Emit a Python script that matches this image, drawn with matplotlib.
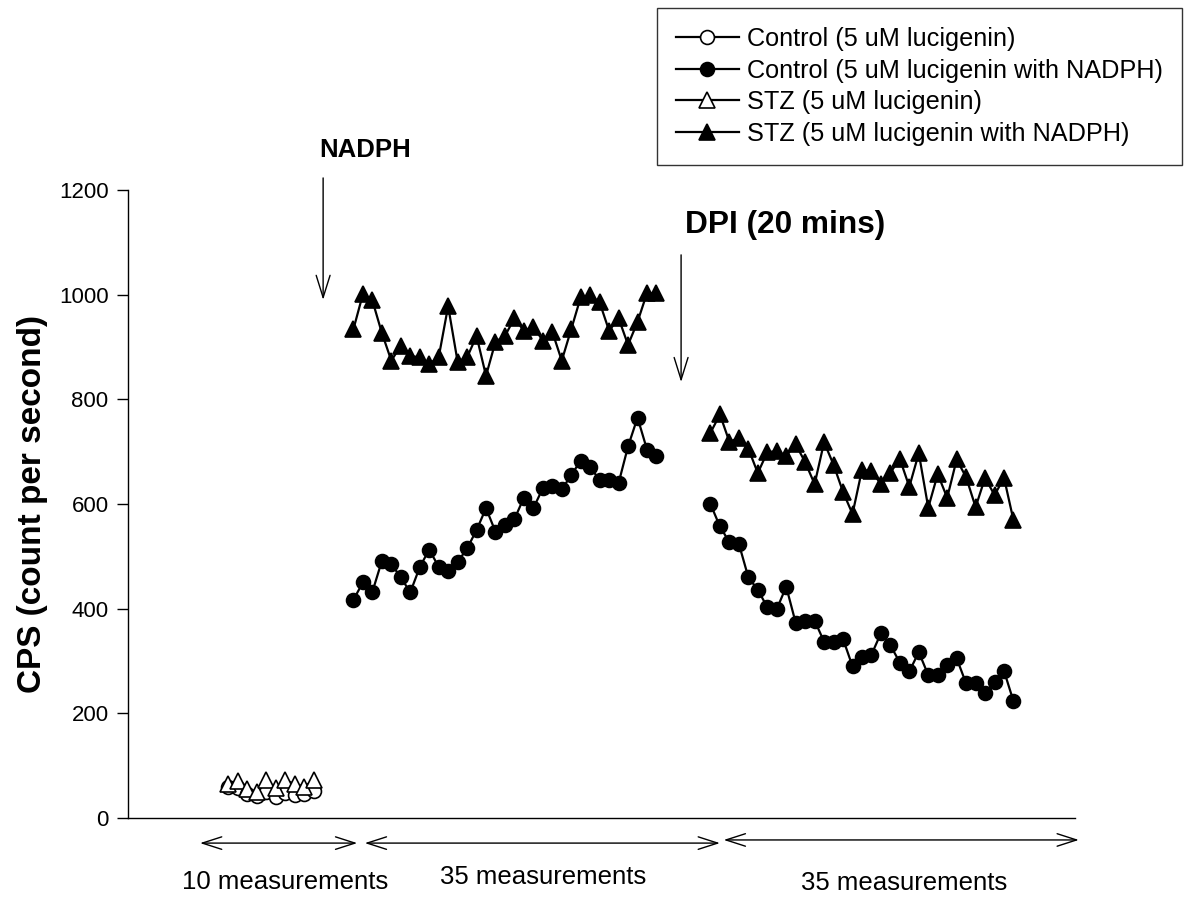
import matplotlib
matplotlib.use("Agg")
import matplotlib.pyplot as plt
import numpy as np

plt.rcParams['font.family'] = ['Liberation Sans', 'DejaVu Sans']

# ---- data ----
# baseline (10 measurements, before NADPH)
ctrl_base = [60, 58, 46, 42, 50, 40, 48, 43, 45, 52]
stz_base = [65, 70, 55, 50, 72, 57, 72, 65, 60, 72]
# after NADPH
ctrl_nadph = [417, 450, 432, 491, 485, 460, 431, 479, 513, 480, 471, 489, 515,
              550, 592, 547, 560, 571, 612, 592, 630, 635, 628, 655, 683, 670,
              646, 645, 640, 710, 765, 704, 692]
stz_nadph = [934, 1001, 989, 927, 874, 902, 883, 880, 868, 880, 978, 872, 880,
             921, 845, 910, 921, 955, 931, 939, 912, 929, 874, 934, 995, 999,
             985, 931, 955, 904, 948, 1003, 1003]
# after DPI (20 mins)
ctrl_dpi = [600, 557, 527, 524, 460, 436, 403, 399, 442, 373, 376, 377, 337,
            337, 342, 290, 307, 312, 353, 330, 297, 280, 317, 273, 273, 292,
            305, 257, 258, 238, 259, 281, 223]
stz_dpi = [736, 771, 719, 726, 706, 659, 699, 701, 692, 714, 680, 638, 718,
           675, 623, 581, 665, 663, 638, 660, 686, 633, 697, 593, 657, 612,
           685, 651, 594, 650, 617, 650, 569]

labels = ["Control (5 uM lucigenin)", "Control (5 uM lucigenin with NADPH)",
          "STZ (5 uM lucigenin)", "STZ (5 uM lucigenin with NADPH)"]
yticks = [0, 200, 400, 600, 800, 1000, 1200]
seg_labels = ["10 measurements", "35 measurements", "35 measurements"]

# segment start positions along the measurement axis
base_start, nadph_start, dpi_start = 10.6, 23.8, 61.5
x_base = base_start + np.arange(len(ctrl_base))
x_nadph = nadph_start + np.arange(len(ctrl_nadph))
x_dpi = dpi_start + np.arange(len(ctrl_dpi))

fig = plt.figure(figsize=(11.9, 8.97), dpi=100)
ax = fig.add_axes([0.1076, 0.0881, 0.7958, 0.7001])

lw = 1.6
ms = 10
common = dict(color='black', lw=lw, markeredgecolor='black', markeredgewidth=1.2)
ax.plot(x_base, ctrl_base, marker='o', markerfacecolor='white', ms=ms, label=labels[0], **common)
ax.plot(x_nadph, ctrl_nadph, marker='o', markerfacecolor='black', ms=ms, label=labels[1], **common)
ax.plot(x_dpi, ctrl_dpi, marker='o', markerfacecolor='black', ms=ms, **common)
ax.plot(x_base, stz_base, marker='^', markerfacecolor='white', ms=ms + 1, label=labels[2], **common)
ax.plot(x_nadph, stz_nadph, marker='^', markerfacecolor='black', ms=ms + 1, label=labels[3], **common)
ax.plot(x_dpi, stz_dpi, marker='^', markerfacecolor='black', ms=ms + 1, **common)

ax.set_xlim(0, 100)
ax.set_ylim(0, 1200)
ax.set_yticks(yticks)
ax.set_xticks([])
ax.tick_params(axis='y', direction='out', length=8, width=1, labelsize=16, pad=6)
for s in ['top', 'right']:
    ax.spines[s].set_visible(False)
for s in ['left', 'bottom']:
    ax.spines[s].set_linewidth(1)
ax.set_ylabel("CPS (count per second)", fontsize=24, fontweight='bold', labelpad=8)

# event annotations
arrow_kw = dict(arrowstyle='->,head_length=1.6,head_width=0.5', lw=1, color='black',
                shrinkA=0, shrinkB=0)
ax.annotate("", xy=(20.6, 990), xytext=(20.6, 1223), arrowprops=arrow_kw,
            annotation_clip=False)
ax.text(20.2, 1276, "NADPH", fontsize=18.5, fontweight='bold', ha='left', va='center',
        clip_on=False)
ax.annotate("", xy=(58.4, 833), xytext=(58.4, 1076), arrowprops=arrow_kw,
            annotation_clip=False)
ax.text(58.8, 1133, "DPI (20 mins)", fontsize=22.8, fontweight='bold', ha='left',
        va='center', clip_on=False)

# measurement span arrows below the axis
span_kw = dict(arrowstyle='<->,head_length=1.4,head_width=0.45', lw=1, color='black',
               shrinkA=0, shrinkB=0)
spans = [(7.6, 24.2, -48), (25.0, 62.5, -48), (62.9, 100.4, -42)]
text_pos = [(16.6, -122), (43.8, -113), (82.0, -125)]
for (a, b, yy), lab, (tx, ty) in zip(spans, seg_labels, text_pos):
    ax.annotate("", xy=(b, yy), xytext=(a, yy), arrowprops=span_kw, annotation_clip=False)
    ax.text(tx, ty, lab, fontsize=18.5, ha='center', va='center', clip_on=False)

leg = fig.legend(loc='upper left', bbox_to_anchor=(0.552, 0.991), fontsize=18.2,
                 frameon=True, fancybox=False, edgecolor='black', handlelength=2.5,
                 borderpad=0.75, labelspacing=0.3, handletextpad=0.32, borderaxespad=0)
leg.get_frame().set_linewidth(1)

fig.savefig("out.png", dpi=100, facecolor='white')
